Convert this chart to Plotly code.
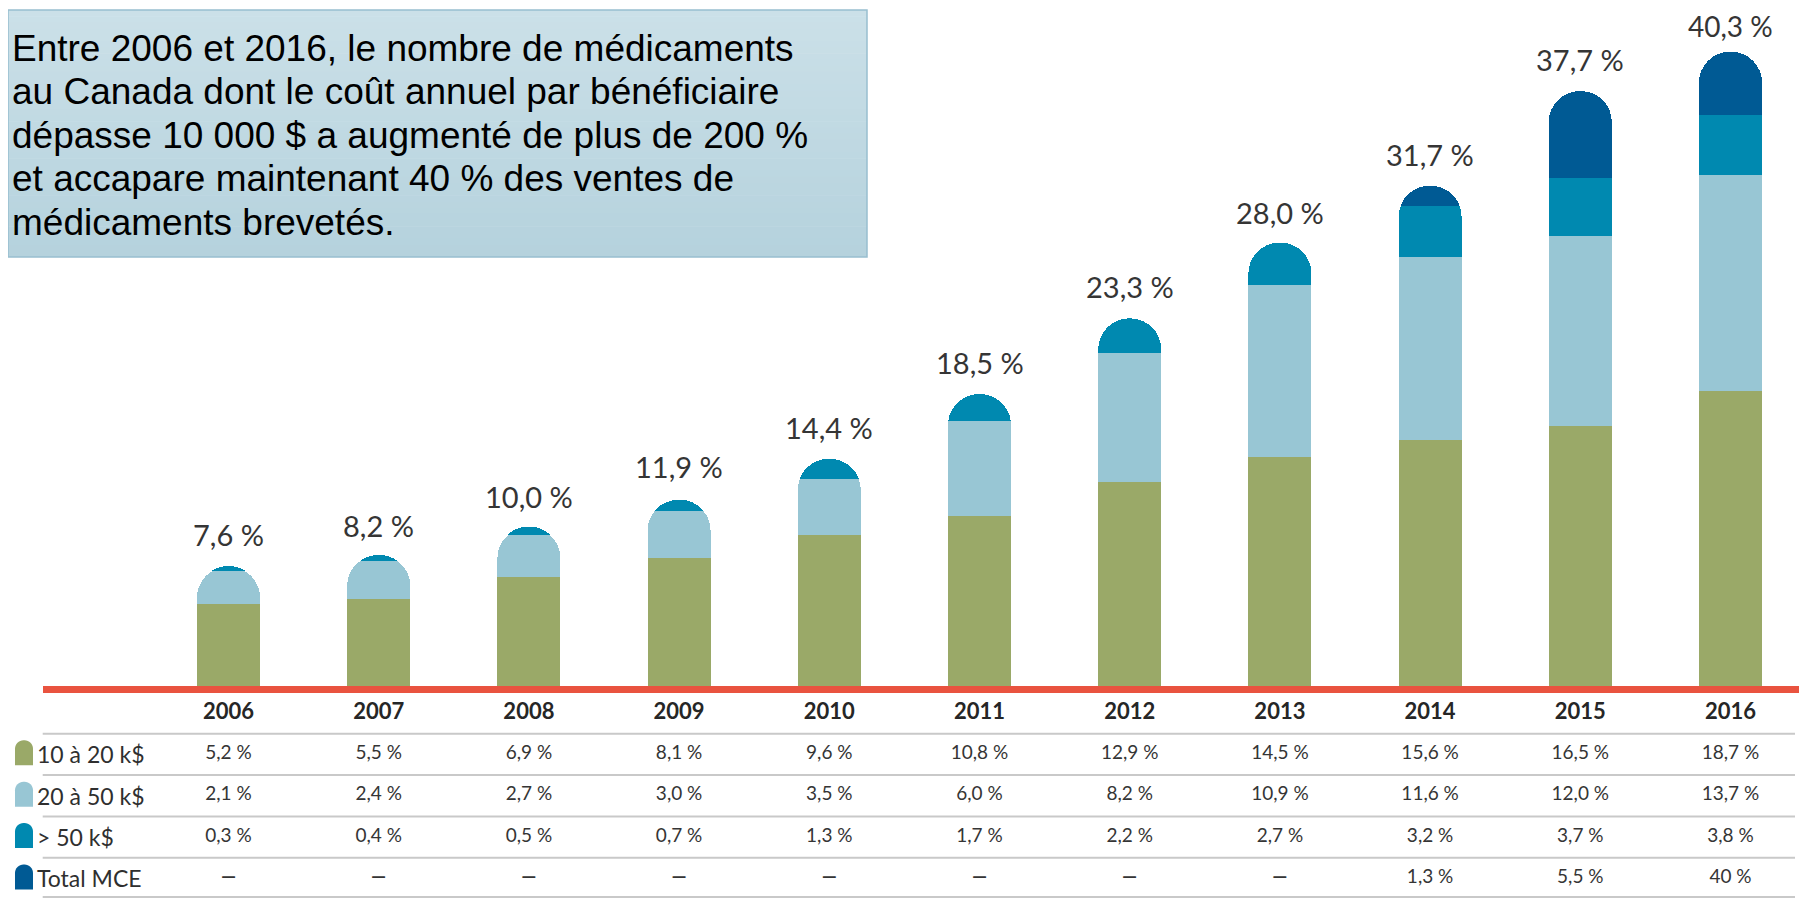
import plotly.graph_objects as go

# ---------------- data ----------------
years = [2006, 2007, 2008, 2009, 2010, 2011, 2012, 2013, 2014, 2015, 2016]
series_names = ["10 à 20 k$", "20 à 50 k$", "> 50 k$", "Total MCE"]
v_10_20 = [5.2, 5.5, 6.9, 8.1, 9.6, 10.8, 12.9, 14.5, 15.6, 16.5, 18.7]
v_20_50 = [2.1, 2.4, 2.7, 3.0, 3.5, 6.0, 8.2, 10.9, 11.6, 12.0, 13.7]
v_50 = [0.3, 0.4, 0.5, 0.7, 1.3, 1.7, 2.2, 2.7, 3.2, 3.7, 3.8]
v_mce = [None, None, None, None, None, None, None, None, 1.3, 5.5, 4.0]
totals = [7.6, 8.2, 10.0, 11.9, 14.4, 18.5, 23.3, 28.0, 31.7, 37.7, 40.3]
total_labels = ["7,6 %", "8,2 %", "10,0 %", "11,9 %", "14,4 %", "18,5 %",
                "23,3 %", "28,0 %", "31,7 %", "37,7 %", "40,3 %"]
mce_labels = ["<b>—</b>"] * 8 + ["1,3 %", "5,5 %", "40 %"]
year_labels = [str(y) for y in years]
box_lines = [
    "Entre 2006 et 2016, le nombre de médicaments",
    "au Canada dont le coût annuel par bénéficiaire",
    "dépasse 10 000 $ a augmenté de plus de 200 %",
    "et accapare maintenant 40 % des ventes de",
    "médicaments brevetés.",
]

def fmt(v):
    return f"{v:.1f}".replace(".", ",") + " %"

row_texts = [[fmt(v) for v in v_10_20], [fmt(v) for v in v_20_50],
             [fmt(v) for v in v_50], mce_labels]

# ---------------- style ----------------
OFF = 8                      # page body margin
W, H = 1820 - OFF, 898 - OFF
colors = ["#9aa968", "#98c6d4", "#0089b0", "#005a94"]
RED = "#e9533f"
TEXT = "#353535"
LABEL_FONT = "Lato, 'Open Sans', sans-serif"

def fx(p):
    return (p - OFF) / W

def fy(p):
    return 1 - (p - OFF) / H

fig = go.Figure()
for name, vals, col in zip(series_names, [v_10_20, v_20_50, v_50, v_mce], colors):
    fig.add_trace(go.Bar(x=years, y=vals, name=name, marker=dict(color=col, line=dict(width=0)),
                         xaxis="x", yaxis="y", hoverinfo="x+y+name"))

# table: header row (k=0) and series rows (k=1..4) on yaxis2
fig.add_trace(go.Scatter(x=years, y=[0] * len(years), mode="text", text=year_labels,
                         textfont=dict(family=LABEL_FONT, size=22, color="#262626", weight="bold"),
                         xaxis="x", yaxis="y2", hoverinfo="skip"))
for k, texts in enumerate(row_texts, start=1):
    fig.add_trace(go.Scatter(x=years, y=[k] * len(years), mode="text", text=texts,
                             textfont=dict(family=LABEL_FONT, size=19, color=TEXT),
                             xaxis="x", yaxis="y2", hoverinfo="skip"))

shapes = []
annotations = []

# separators in table
for k in [0.5, 1.5, 2.5, 3.5, 4.45]:
    shapes.append(dict(type="line", xref="paper", yref="y2", x0=fx(42.7), x1=fx(1795),
                       y0=k, y1=k, line=dict(color="#c9c9c9", width=2)))

# legend icons (rounded-top rectangles)
ROW0, ROWSTEP = 713.0, 41.35

def P(px, py):
    return f"{fx(px):.6f},{fy(py):.6f}"

for k, col in enumerate(colors, start=1):
    cy = ROW0 + ROWSTEP * k - 1.5
    x0, x1 = 15.0, 33.0
    yt, yb = cy - 12.5, cy + 12.5
    r = 8.5
    c = r * 0.448
    path = (f"M {P(x0, yb)} L {P(x0, yt + r)} C {P(x0, yt + c)} {P(x0 + c, yt)} {P(x0 + r, yt)} "
            f"L {P(x1 - r, yt)} C {P(x1 - c, yt)} {P(x1, yt + c)} {P(x1, yt + r)} L {P(x1, yb)} Z")
    shapes.append(dict(type="path", xref="paper", yref="paper", path=path,
                       fillcolor=col, line=dict(width=0)))
    annotations.append(dict(xref="paper", yref="y2", x=fx(35), y=k, xanchor="left", yanchor="middle",
                            text=series_names[k - 1], showarrow=False,
                            font=dict(family=LABEL_FONT, size=23, color="#2f2f2f")))

# text box with vertical gradient
bx0, bx1, by0, by1 = OFF, 867.0, 10.0, 257.0
n = 40
c_top = (0xcb, 0xe0, 0xe8)
c_bot = (0xb5, 0xd2, 0xdd)
for i in range(n):
    t = i / (n - 1)
    rgb = tuple(round(a + (b - a) * t) for a, b in zip(c_top, c_bot))
    ya = by0 + (by1 - by0) * i / n
    yb = by0 + (by1 - by0) * (i + 1) / n + 0.6
    shapes.append(dict(type="rect", xref="paper", yref="paper", x0=fx(bx0), x1=fx(bx1),
                       y0=fy(ya), y1=fy(min(yb, by1)),
                       fillcolor=f"rgb{rgb}", line=dict(width=0), layer="below"))
shapes.append(dict(type="rect", xref="paper", yref="paper", x0=fx(bx0), x1=fx(bx1),
                   y0=fy(by0), y1=fy(by1), fillcolor="rgba(0,0,0,0)",
                   line=dict(color="#98bfd0", width=1.5), layer="below"))

for i, line in enumerate(box_lines):
    cy = 48 + 43.5 * i
    annotations.append(dict(xref="paper", yref="paper", x=fx(10), y=fy(cy),
                            xanchor="left", yanchor="middle", text=line, showarrow=False,
                            font=dict(family="'Liberation Sans', Arial, sans-serif", size=37, color="#000000")))

# total labels above bars (the tallest one is kept inside the page)
top_total = max(totals)
for yr, tot, lab in zip(years, totals, total_labels):
    annotations.append(dict(x=yr, y=tot, xref="x", yref="y", text=lab, showarrow=False,
                            yanchor="bottom", yshift=12 if tot < top_total else 5,
                            font=dict(family=LABEL_FONT, size=29 if tot < top_total else 28, color=TEXT)))

fig.update_layout(
    width=W, height=H,
    margin=dict(l=0, r=0, t=0, b=0),
    paper_bgcolor="white", plot_bgcolor="white",
    barmode="stack", bargap=0.58, barcornerradius="50%",
    showlegend=False,
    xaxis=dict(domain=[fx(42.7), fx(1799)], range=[2004.763, 2016.456], anchor="y",
               showgrid=False, zeroline=False, showticklabels=False, ticks="",
               showline=True, linecolor=RED, linewidth=7, fixedrange=True),
    yaxis=dict(domain=[fy(686), 1], range=[0, (686 - OFF) / 15.78], anchor="x",
               showgrid=False, zeroline=False, showticklabels=False, ticks="", showline=False,
               fixedrange=True),
    yaxis2=dict(domain=[0, fy(686)], range=[4.474, -0.653], anchor="x",
                showgrid=False, zeroline=False, showticklabels=False, ticks="", showline=False,
                fixedrange=True),
    shapes=shapes,
    annotations=annotations,
)

fig.write_html("out.html")
